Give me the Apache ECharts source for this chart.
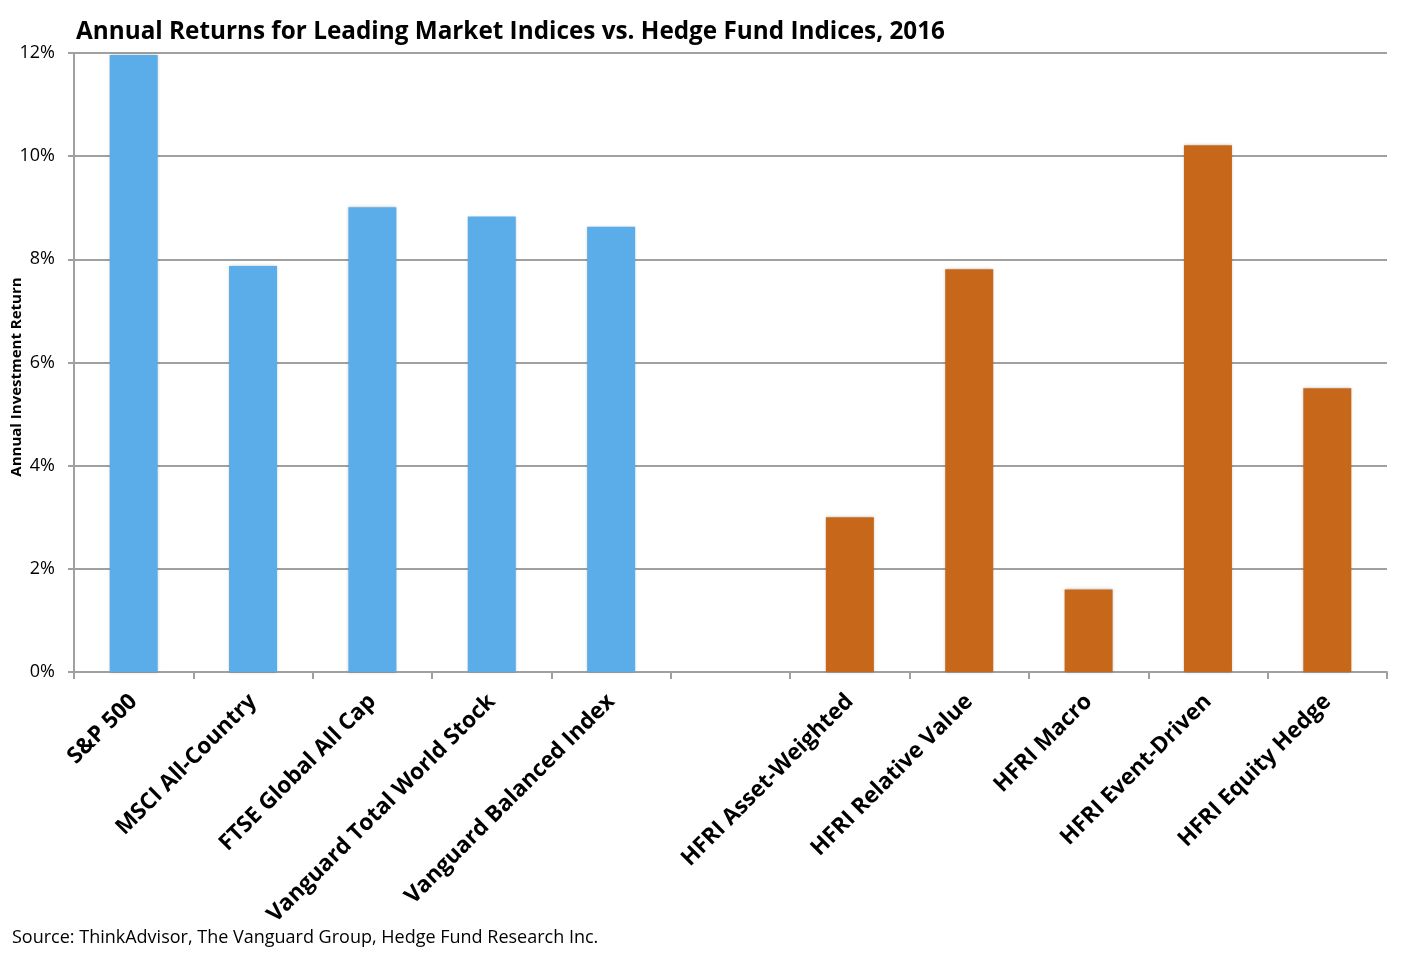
<!DOCTYPE html>
<html><head><meta charset="utf-8">
<script src="https://cdn.jsdelivr.net/npm/echarts@6/dist/echarts.min.js"></script>
<style>html,body{margin:0;padding:0;background:#fff}#c{width:1407px;height:957px}</style>
</head><body><div id="c"></div>
<script>
const categories = ['S&P 500','MSCI All-Country','FTSE Global All Cap','Vanguard Total World Stock','Vanguard Balanced Index','','HFRI Asset-Weighted','HFRI Relative Value','HFRI Macro','HFRI Event-Driven','HFRI Equity Hedge'];
const returns = [11.96, 7.87, 9.01, 8.83, 8.63, null, 3.0, 7.81, 1.6, 10.21, 5.5];
const groups = ['market','market','market','market','market','none','hedge','hedge','hedge','hedge','hedge'];
const yTicks = [0, 2, 4, 6, 8, 10, 12];
const groupColors = {market:'#5BADE9', hedge:'#C76719', none:'#ffffff'};
const FONT = '"Open Sans", "Liberation Sans", sans-serif';

const chart = echarts.init(document.getElementById('c'));
chart.setOption({
  animation:false,
  backgroundColor:'#fff',
  title:{text:'Annual Returns for Leading Market Indices vs. Hedge Fund Indices, 2016', left:71, top:15,
    textStyle:{fontFamily:FONT, fontSize:24.3, fontWeight:'bold', color:'#000'}},
  graphic:[
    {type:'text', left:12, top:929, style:{text:'Source: ThinkAdvisor, The Vanguard Group, Hedge Fund Research Inc.', font:'18px "Open Sans", sans-serif', fill:'#000'}},
    {type:'text', x:17, y:377, rotation:Math.PI/2, style:{text:'Annual Investment Return', font:'bold 15px "Open Sans", sans-serif', fill:'#000', align:'center', verticalAlign:'middle'}}
  ],
  grid:{left:74, right:20, top:53, bottom:285, containLabel:false, outerBoundsMode:'none'},
  xAxis:{type:'category', data:categories,
    axisLine:{lineStyle:{color:'#a0a0a0', width:2}},
    axisTick:{show:true, length:7, lineStyle:{color:'#a0a0a0', width:2}},
    axisLabel:{rotate:45, interval:0, margin:26, fontFamily:FONT, fontSize:22.5, fontWeight:'bold', color:'#000'}},
  yAxis:{type:'value', min:yTicks[0], max:yTicks[yTicks.length-1], interval:2,
    axisLine:{show:true, lineStyle:{color:'#a0a0a0', width:2}},
    axisTick:{show:true, length:6, lineStyle:{color:'#a0a0a0', width:2}},
    splitLine:{lineStyle:{color:'#a0a0a0', width:2}},
    axisLabel:{formatter:'{value}%', margin:19, fontFamily:FONT, fontSize:18, color:'#000'}},
  series:[{type:'bar', barWidth:48,
    data:returns.map((v,i)=>({value:v, itemStyle:{color:groupColors[groups[i]]}})),
    itemStyle:{shadowColor:'rgba(0,0,0,0.25)', shadowBlur:3}}]
});
</script></body></html>
